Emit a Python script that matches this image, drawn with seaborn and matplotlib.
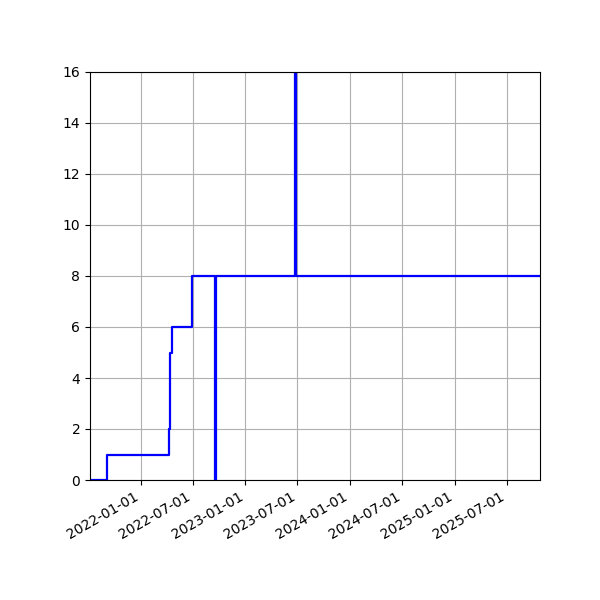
import matplotlib
matplotlib.use("Agg")
import matplotlib.pyplot as plt
import matplotlib.dates as mdates
import pandas as pd
import seaborn as sns

dates = ['2021-07-08', '2021-09-04', '2022-04-10', '2022-04-12', '2022-04-21',
         '2022-06-30', '2022-09-17', '2022-09-20', '2023-06-23', '2023-06-26',
         '2025-10-24']
values = [0, 1, 2, 5, 6, 8, 0, 8, 20, 8, 8]

df = pd.DataFrame({'date': pd.to_datetime(dates), 'value': values})

fig = plt.figure(figsize=(6, 6), dpi=100)
ax = fig.add_axes([0.15, 0.2, 0.75, 0.68])
sns.lineplot(data=df, x='date', y='value', ax=ax, color='blue', linewidth=1.6,
             drawstyle='steps-post', estimator=None, sort=False)
ax.set_xlim(df['date'].iloc[0], df['date'].iloc[-1])
ax.set_ylim(0, 16)
ax.xaxis.set_major_locator(mdates.MonthLocator(bymonth=[1, 7]))
ax.xaxis.set_major_formatter(mdates.DateFormatter('%Y-%m-%d'))
for lbl in ax.get_xticklabels():
    lbl.set_rotation(30)
    lbl.set_ha('right')
ax.set_xlabel('')
ax.set_ylabel('')
ax.grid(True)
fig.savefig('out.png', dpi=100)
